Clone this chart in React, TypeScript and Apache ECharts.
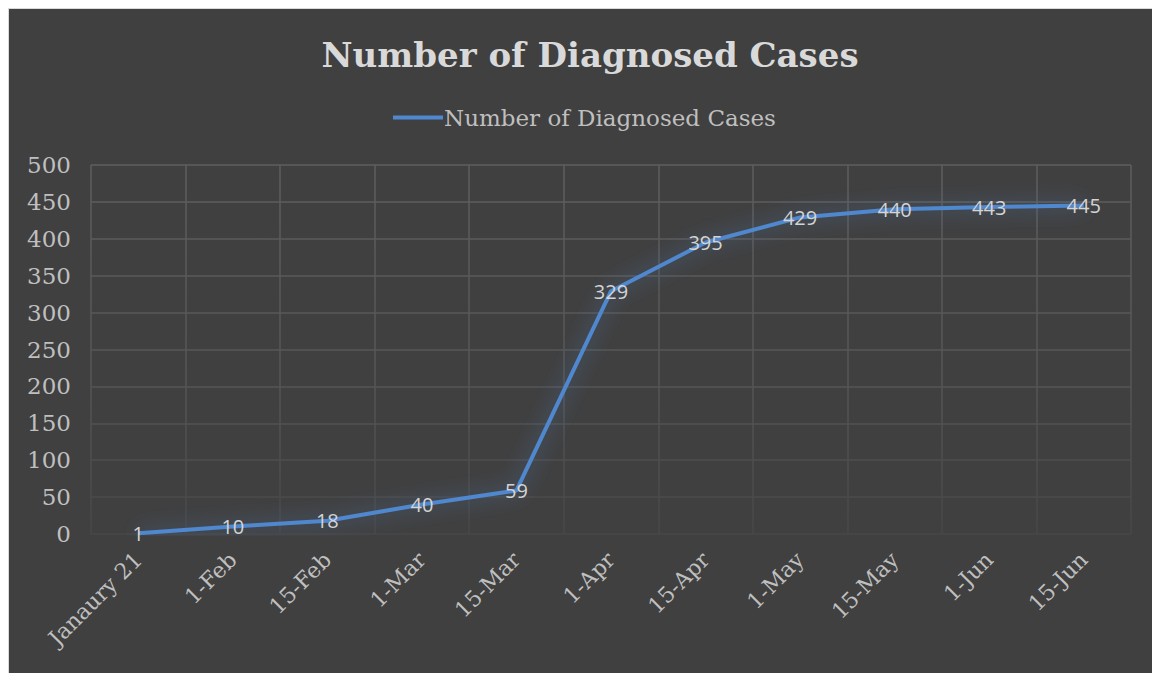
import React, { useEffect, useRef } from "react";
import * as echarts from "echarts";

const categories = ["Janaury 21", "1-Feb", "15-Feb", "1-Mar", "15-Mar", "1-Apr", "15-Apr", "1-May", "15-May", "1-Jun", "15-Jun"];
const cases = [1, 10, 18, 40, 59, 329, 395, 429, 440, 443, 445];
const seriesName = "Number of Diagnosed Cases";
const titleText = "Number of Diagnosed Cases";

export default function App() {
  const ref = useRef<HTMLDivElement>(null);
  useEffect(() => {
    if (!ref.current) return;
    const chart = echarts.init(ref.current, null, { renderer: "svg" });
    const gridGrad = new echarts.graphic.LinearGradient(0, 156, 0, 525, [
      { offset: 0, color: "#5e5e5e" },
      { offset: 0.6, color: "#555555" },
      { offset: 1, color: "#474747" },
    ], true);
    chart.setOption({
      animation: false,
      backgroundColor: "#404040",
      title: {
        text: titleText,
        left: 576,
        textAlign: "center",
        top: 24,
        textStyle: { fontFamily: "DejaVu Serif", fontWeight: "bold", fontSize: 34, color: "#d9d9d9" },
      },
      legend: {
        top: 92,
        left: 379,
        itemWidth: 50,
        itemHeight: 4,
        itemGap: 4,
        icon: "rect",
        itemStyle: { color: "#4f88cf" },
        textStyle: { fontFamily: "DejaVu Serif", fontSize: 23, color: "#bfbfbf", padding: [0, 0, 0, -4] },
        data: [seriesName],
      },
      grid: { left: 82, top: 156, right: 21, bottom: 139, containLabel: false },
      xAxis: {
        type: "category",
        data: categories,
        boundaryGap: true,
        axisLine: { show: false },
        axisTick: { show: false },
        splitLine: { show: true, lineStyle: { color: gridGrad, width: 1.5 } },
        axisLabel: {
          rotate: 45,
          interval: 0,
          margin: 22,
          fontFamily: "DejaVu Serif",
          fontSize: 22,
          color: "#bfbfbf",
        },
      },
      yAxis: {
        type: "value",
        min: 0,
        max: 500,
        interval: 50,
        axisLine: { show: false },
        axisTick: { show: false },
        splitLine: { show: true, lineStyle: { color: gridGrad, width: 1.5 } },
        axisLabel: { margin: 20, fontFamily: "DejaVu Serif", fontSize: 23, color: "#bfbfbf" },
      },
      series: [
        {
          name: seriesName,
          type: "line",
          data: cases,
          symbol: "circle",
          symbolSize: 1,
          showSymbol: true,
          itemStyle: { color: "rgba(0,0,0,0)", borderWidth: 0 },
          lineStyle: {
            color: "#4f88cf",
            width: 4,
            shadowBlur: 20,
            shadowColor: "rgba(80,140,220,0.6)",
          },
          label: {
            show: true,
            position: "inside",
            fontFamily: "Open Sans",
            fontSize: 20,
            color: "#d4d4d4",
          },
          emphasis: { disabled: true },
        },
      ],
    });
    return () => chart.dispose();
  }, []);
  return (
    <div style={{ position: "fixed", left: 8, top: 8, width: 1160, height: 680, background: "#404040", borderLeft: "1px solid #d9d9d9", borderTop: "1px solid #d9d9d9", boxSizing: "border-box" }}>
      <div ref={ref} style={{ width: 1143, height: 664 }} />
    </div>
  );
}
